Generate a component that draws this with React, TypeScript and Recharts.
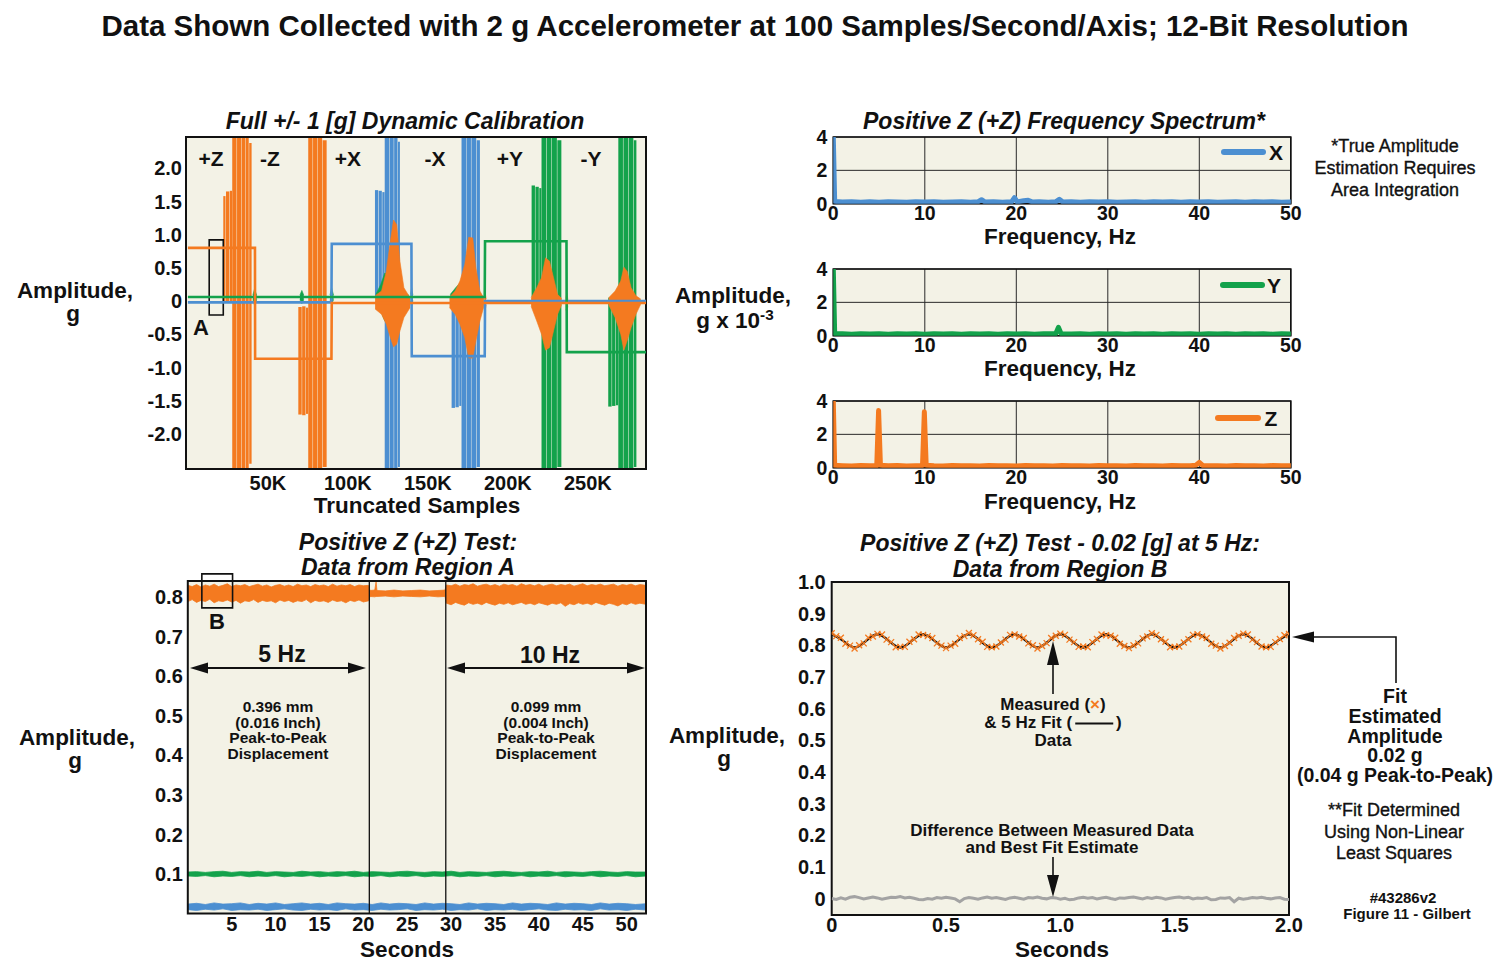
import React from 'react';
import {
  ComposedChart,
  Line,
  Area,
  Scatter,
  XAxis,
  YAxis,
  CartesianGrid,
  ReferenceArea,
  ReferenceLine,
} from 'recharts';

const FONT = '"Liberation Sans", Arial, Helvetica, sans-serif';
const INK = '#111111';
const ORANGE = '#F47A20';
const BLUE = '#4C8FD1';
const GREEN = '#13A24B';
const CREAM = '#F3F2E6';
const GRAY = '#A3A3A3';

// ---------------- Panel 1: dynamic calibration (samples, g) ----------------
const CAL_DOMAIN_X: [number, number] = [-1200, 286300];
const CAL_DOMAIN_Y: [number, number] = [-2.53, 2.47];
const calXTicks = [50000, 100000, 150000, 200000, 250000];
const calYTicks = [2, 1.5, 1, 0.5, 0, -0.5, -1, -1.5, -2];

const orangeLevel: [number, number][] = [
  [0, 0.8], [41900, 0.8], [42000, -0.87], [89700, -0.87], [89900, -0.03], [286300, -0.03],
];
const blueLevel: [number, number][] = [
  [0, -0.02], [89700, -0.02], [89900, 0.86], [139700, 0.86], [139900, -0.83],
  [185500, -0.83], [185700, 0.0], [286300, 0.0],
];
const greenLevel: [number, number][] = [
  [0, 0.06], [185500, 0.06], [185700, 0.9], [236600, 0.9], [236800, -0.77], [286300, -0.77],
];

// burst strips: [startSample, endSample, low g, high g]
const orangeStrips: [number, number, number, number][] = [
  [22100, 23500, 0.0, 1.58], [23800, 25900, 0.0, 1.65], [26200, 27600, 0.0, 1.66],
  [27700, 30400, -2.53, 2.47], [30700, 33200, -2.53, 2.47], [33500, 35700, -2.53, 2.47],
  [36000, 38000, -2.53, 2.47], [38300, 39800, -2.45, 2.38],
  [69000, 71100, -1.71, -0.09], [71400, 73500, -1.72, -0.08], [73800, 75100, -1.7, -0.1],
  [75200, 77900, -2.53, 2.47], [78200, 81000, -2.53, 2.47], [81300, 83900, -2.53, 2.47],
  [84200, 86700, -2.5, 2.42],
];
const blueStrips: [number, number, number, number][] = [
  [116900, 118900, 0.05, 1.67], [119200, 121200, 0.05, 1.66], [121500, 122900, 0.05, 1.64],
  [123000, 125700, -2.53, 2.47], [126000, 128600, -2.53, 2.47], [128900, 131000, -2.53, 2.47],
  [131300, 132500, -2.5, 2.4],
  [164800, 166900, -1.61, -0.05], [167200, 169300, -1.6, -0.06], [169600, 170900, -1.58, -0.06],
  [171000, 173800, -2.53, 2.47], [174100, 176900, -2.53, 2.47], [177200, 180200, -2.53, 2.47],
  [180500, 182500, -2.5, 2.42],
];
const greenStrips: [number, number, number, number][] = [
  [214800, 216900, 0.06, 1.74], [217200, 219300, 0.06, 1.72], [219600, 220900, 0.06, 1.7],
  [221000, 224000, -2.53, 2.47], [224300, 227200, -2.53, 2.47], [227500, 230600, -2.53, 2.47],
  [230900, 233400, -2.5, 2.42],
  [262700, 264800, -1.59, 0.05], [265100, 267200, -1.58, 0.04], [267500, 268900, -1.57, 0.05],
  [269000, 271900, -2.53, 2.47], [272200, 275200, -2.53, 2.47], [275500, 278400, -2.53, 2.47],
  [278700, 280300, -2.5, 2.42],
];

// cross-axis responses (envelopes): [sample, low g, high g]
const orangeSpindles: [number, number, number][][] = [
  [[117000, -0.12, 0.08], [121000, -0.2, 0.15], [124000, -0.35, 0.45], [126500, -0.55, 0.9],
   [128500, -0.69, 1.22], [130500, -0.65, 1.15], [132500, -0.45, 0.6], [135000, -0.25, 0.2], [138800, -0.1, 0.05]],
  [[163500, -0.1, 0.06], [167000, -0.2, 0.15], [170000, -0.35, 0.3], [173000, -0.55, 0.55],
   [175500, -0.86, 0.96], [178000, -0.86, 0.95], [180000, -0.6, 0.5], [182500, -0.3, 0.15], [185000, -0.08, 0.04]],
  [[214500, -0.08, 0.05], [218000, -0.3, 0.2], [221000, -0.5, 0.35], [223500, -0.74, 0.65],
   [226000, -0.7, 0.6], [228500, -0.45, 0.35], [231000, -0.2, 0.1], [233500, -0.06, 0.04]],
  [[263000, -0.06, 0.05], [267000, -0.25, 0.15], [270500, -0.5, 0.3], [272500, -0.74, 0.51],
   [274500, -0.6, 0.45], [277000, -0.4, 0.2], [280000, -0.2, 0.08], [283000, -0.05, 0.03]],
  [[185200, -0.1, 0.05], [185700, -0.15, 0.15], [186400, -0.06, 0.03]],
  [[236200, -0.12, 0.04], [236800, -0.18, 0.12], [237500, -0.07, 0.02]],
];
const greenSpindles: [number, number, number][][] = [
  [[117500, 0.0, 0.1], [120500, -0.15, 0.25], [123000, -0.3, 0.42], [126000, -0.28, 0.38],
   [129000, -0.15, 0.2], [133000, -0.05, 0.12], [138000, 0.02, 0.09]],
  [[164000, 0.0, 0.1], [168000, -0.1, 0.22], [171500, -0.2, 0.3], [175000, -0.15, 0.22],
   [179000, -0.05, 0.12], [184000, 0.02, 0.08]],
  [[40600, 0.02, 0.09], [41600, -0.06, 0.18], [43000, 0.02, 0.09]],
  [[70000, 0.02, 0.09], [71200, -0.04, 0.16], [72400, 0.02, 0.09]],
  [[88800, 0.02, 0.09], [89800, -0.05, 0.2], [91000, 0.02, 0.09]],
  [[139200, 0.0, 0.1], [139800, -0.1, 0.2], [140600, 0.01, 0.09]],
];

// ---------------- Panels 2-4: frequency spectra (Hz, g x 10^-3) ----------------
const specXTicks = [0, 10, 20, 30, 40, 50];
const specYTicks = [0, 2, 4];
const spectrumX: [number, number][] = [
  [0, 4], [0.15, 0.14], [1, 0.1], [2, 0.12], [3, 0.08], [4, 0.11], [5, 0.09], [6, 0.12], [7, 0.1],
  [8, 0.08], [9, 0.11], [10, 0.1], [11, 0.12], [12, 0.09], [13, 0.1], [14, 0.12], [15, 0.09],
  [15.8, 0.11], [16.2, 0.24], [16.6, 0.1], [17.5, 0.11], [18.5, 0.09], [19.5, 0.12], [19.8, 0.36],
  [20.1, 0.11], [20.8, 0.18], [21.3, 0.2], [21.8, 0.1], [22.5, 0.12], [23.5, 0.09], [24.3, 0.11],
  [24.7, 0.26], [25.1, 0.1], [26, 0.12], [27, 0.09], [28, 0.11], [29, 0.1], [30, 0.12], [31, 0.09],
  [32, 0.1], [33, 0.12], [34, 0.09], [35, 0.11], [36, 0.1], [37, 0.12], [38, 0.08], [39, 0.11],
  [40, 0.1], [41, 0.12], [42, 0.09], [43, 0.1], [44, 0.12], [45, 0.09], [46, 0.11], [47, 0.1],
  [48, 0.12], [49, 0.09], [50, 0.1],
];
const spectrumY: [number, number][] = [
  [0, 4], [0.15, 0.13], [1, 0.11], [2, 0.09], [3, 0.12], [4, 0.1], [5, 0.11], [6, 0.09], [7, 0.12],
  [8, 0.1], [9, 0.11], [10, 0.09], [11, 0.12], [12, 0.1], [13, 0.11], [14, 0.09], [15, 0.12],
  [16, 0.1], [17, 0.11], [18, 0.09], [19, 0.12], [20, 0.1], [21, 0.11], [22, 0.09], [23, 0.12],
  [24.3, 0.11], [24.6, 0.5], [24.9, 0.12], [26, 0.1], [27, 0.11], [28, 0.09], [29, 0.12], [30, 0.1],
  [31, 0.11], [32, 0.09], [33, 0.12], [34, 0.1], [35, 0.11], [36, 0.09], [37, 0.12], [38, 0.1],
  [39, 0.11], [40, 0.09], [41, 0.12], [42, 0.1], [43, 0.11], [44, 0.09], [45, 0.12], [46, 0.1],
  [47, 0.11], [48, 0.09], [49, 0.12], [50, 0.1],
];
const spectrumZ: [number, number][] = [
  [0, 4], [0.15, 0.14], [1, 0.12], [2, 0.1], [3, 0.13], [4, 0.11], [4.75, 0.12], [4.95, 3.43],
  [5.15, 0.14], [6, 0.11], [7, 0.13], [8, 0.1], [9, 0.12], [9.75, 0.13], [9.95, 3.35], [10.15, 0.15],
  [11, 0.12], [12, 0.1], [13, 0.13], [14, 0.11], [15, 0.12], [16, 0.1], [17, 0.13], [18, 0.11],
  [19, 0.12], [20, 0.1], [21, 0.13], [22, 0.11], [23, 0.12], [24, 0.1], [25, 0.13], [26, 0.11],
  [27, 0.12], [28, 0.1], [29, 0.13], [30, 0.11], [31, 0.12], [32, 0.1], [33, 0.13], [34, 0.11],
  [35, 0.12], [36, 0.1], [37, 0.13], [38, 0.11], [39, 0.12], [39.6, 0.14], [40, 0.32], [40.4, 0.13],
  [41, 0.11], [42, 0.12], [43, 0.1], [44, 0.13], [45, 0.11], [46, 0.12], [47, 0.1], [48, 0.13],
  [49, 0.11], [50, 0.12],
];

// ---------------- Panel 5: region A (seconds, g) ----------------
const regA_DOMAIN_X: [number, number] = [0, 52.2];
const regA_DOMAIN_Y: [number, number] = [0, 0.84];
const regAXTicks = [5, 10, 15, 20, 25, 30, 35, 40, 45, 50];
const regAYTicks = [0.1, 0.2, 0.3, 0.4, 0.5, 0.6, 0.7, 0.8];
const regA_segmentEnds = [20.68, 29.39];
const orangeBandA: [number, number, number][] = [
  [0, 0.788, 0.829], [0.5, 0.793, 0.826], [1, 0.786, 0.831], [1.5, 0.791, 0.825], [2, 0.788, 0.83],
  [2.5, 0.794, 0.827], [3, 0.785, 0.832], [3.5, 0.79, 0.826], [4, 0.788, 0.829], [4.5, 0.792, 0.833],
  [5, 0.787, 0.826], [5.5, 0.791, 0.83], [6, 0.784, 0.828], [6.5, 0.79, 0.831], [7, 0.788, 0.826],
  [7.5, 0.793, 0.829], [8, 0.786, 0.832], [8.5, 0.791, 0.827], [9, 0.788, 0.83], [9.5, 0.79, 0.825],
  [10, 0.785, 0.829], [10.5, 0.792, 0.831], [11, 0.788, 0.827], [11.5, 0.791, 0.83], [12, 0.786, 0.826],
  [12.5, 0.79, 0.832], [13, 0.788, 0.828], [13.5, 0.793, 0.83], [14, 0.785, 0.826], [14.5, 0.791, 0.831],
  [15, 0.788, 0.828], [15.5, 0.79, 0.83], [16, 0.786, 0.826], [16.5, 0.792, 0.832], [17, 0.788, 0.827],
  [17.5, 0.79, 0.83], [18, 0.785, 0.828], [18.5, 0.791, 0.831], [19, 0.788, 0.826], [19.5, 0.792, 0.83],
  [20, 0.787, 0.828], [20.6, 0.79, 0.829],
  [20.75, 0.801, 0.816], [21.3, 0.8, 0.817], [21.45, 0.801, 0.838], [21.55, 0.801, 0.816],
  [22.5, 0.802, 0.815], [23.5, 0.8, 0.817], [24.5, 0.802, 0.815], [25.5, 0.801, 0.816],
  [26.5, 0.8, 0.817], [27.5, 0.802, 0.815], [28.5, 0.8, 0.816], [29.3, 0.801, 0.817],
  [29.45, 0.784, 0.83], [30, 0.78, 0.828], [30.5, 0.786, 0.832], [31, 0.782, 0.827], [31.5, 0.779, 0.831],
  [32, 0.785, 0.829], [32.5, 0.781, 0.833], [33, 0.784, 0.827], [33.5, 0.78, 0.83], [34, 0.786, 0.832],
  [34.5, 0.782, 0.828], [35, 0.779, 0.831], [35.5, 0.784, 0.827], [36, 0.781, 0.832], [36.5, 0.785, 0.829],
  [37, 0.78, 0.831], [37.5, 0.783, 0.827], [38, 0.786, 0.833], [38.5, 0.781, 0.829], [39, 0.784, 0.831],
  [39.5, 0.78, 0.828], [40, 0.785, 0.832], [40.5, 0.782, 0.827], [41, 0.779, 0.83], [41.5, 0.784, 0.832],
  [42, 0.781, 0.828], [42.5, 0.785, 0.831], [43, 0.776, 0.829], [43.5, 0.783, 0.832], [44, 0.78, 0.827],
  [44.5, 0.785, 0.83], [45, 0.781, 0.833], [45.5, 0.784, 0.828], [46, 0.78, 0.831], [46.5, 0.786, 0.829],
  [47, 0.782, 0.832], [47.5, 0.779, 0.828], [48, 0.784, 0.83], [48.5, 0.781, 0.832], [49, 0.777, 0.827],
  [49.5, 0.783, 0.831], [50, 0.78, 0.829], [50.5, 0.785, 0.832], [51, 0.781, 0.828], [51.5, 0.784, 0.831],
  [52.2, 0.781, 0.829],
];
const greenBandA: [number, number, number][] = [
  [0, 0.095, 0.105], [1, 0.094, 0.106], [2, 0.096, 0.104], [3, 0.093, 0.106], [4, 0.095, 0.107],
  [5, 0.094, 0.104], [6, 0.096, 0.106], [7, 0.093, 0.105], [8, 0.095, 0.107], [9, 0.094, 0.104],
  [10, 0.096, 0.106], [11, 0.093, 0.105], [12, 0.095, 0.104], [13, 0.094, 0.107], [14, 0.096, 0.105],
  [15, 0.093, 0.106], [16, 0.095, 0.104], [17, 0.094, 0.106], [18, 0.096, 0.105], [19, 0.093, 0.107],
  [20, 0.095, 0.104], [21, 0.094, 0.106], [22, 0.096, 0.105], [23, 0.093, 0.104], [24, 0.095, 0.106],
  [25, 0.094, 0.107], [26, 0.096, 0.105], [27, 0.093, 0.104], [28, 0.095, 0.106], [29, 0.094, 0.105],
  [30, 0.096, 0.107], [31, 0.093, 0.104], [32, 0.095, 0.106], [33, 0.094, 0.105], [34, 0.096, 0.104],
  [35, 0.093, 0.106], [36, 0.095, 0.107], [37, 0.094, 0.105], [38, 0.096, 0.104], [39, 0.093, 0.106],
  [40, 0.095, 0.105], [41, 0.094, 0.107], [42, 0.096, 0.104], [43, 0.093, 0.106], [44, 0.095, 0.105],
  [45, 0.094, 0.104], [46, 0.096, 0.106], [47, 0.093, 0.107], [48, 0.095, 0.105], [49, 0.094, 0.104],
  [50, 0.096, 0.106], [51, 0.093, 0.105], [52.2, 0.095, 0.105],
];
const blueBandA: [number, number, number][] = [
  [0, 0.01, 0.024], [1, 0.008, 0.026], [2, 0.011, 0.023], [3, 0.009, 0.027], [4, 0.012, 0.024],
  [5, 0.008, 0.025], [6, 0.01, 0.027], [7, 0.009, 0.023], [8, 0.011, 0.026], [9, 0.008, 0.024],
  [10, 0.01, 0.027], [11, 0.012, 0.023], [12, 0.009, 0.025], [13, 0.008, 0.027], [14, 0.011, 0.024],
  [15, 0.009, 0.026], [16, 0.01, 0.023], [17, 0.008, 0.027], [18, 0.012, 0.025], [19, 0.009, 0.024],
  [20, 0.01, 0.026], [21, 0.008, 0.023], [22, 0.011, 0.027], [23, 0.009, 0.024], [24, 0.01, 0.026],
  [25, 0.012, 0.025], [26, 0.008, 0.023], [27, 0.01, 0.027], [28, 0.009, 0.024], [29, 0.011, 0.026],
  [30, 0.008, 0.025], [31, 0.01, 0.023], [32, 0.009, 0.027], [33, 0.012, 0.024], [34, 0.008, 0.026],
  [35, 0.01, 0.025], [36, 0.009, 0.023], [37, 0.011, 0.027], [38, 0.008, 0.024], [39, 0.01, 0.026],
  [40, 0.012, 0.025], [41, 0.009, 0.023], [42, 0.008, 0.027], [43, 0.011, 0.024], [44, 0.009, 0.026],
  [45, 0.01, 0.025], [46, 0.008, 0.023], [47, 0.012, 0.027], [48, 0.009, 0.024], [49, 0.01, 0.026],
  [50, 0.008, 0.025], [51, 0.011, 0.023], [52.2, 0.009, 0.025],
];

// ---------------- Panel 6: region B (seconds, g) ----------------
const regB_DOMAIN_X: [number, number] = [0, 2];
const regB_DOMAIN_Y: [number, number] = [-0.052, 1.0];
const regBXTicks = [0, 0.5, 1, 1.5, 2];
const regBYTicks = [0, 0.1, 0.2, 0.3, 0.4, 0.5, 0.6, 0.7, 0.8, 0.9, 1.0];
const FIT_DT = 0.05;
const fitValues = [
  0.835, 0.814, 0.793, 0.814, 0.835, 0.814, 0.793, 0.814, 0.835, 0.814,
  0.793, 0.814, 0.835, 0.814, 0.793, 0.814, 0.835, 0.814, 0.793, 0.814,
  0.835, 0.814, 0.793, 0.814, 0.835, 0.814, 0.793, 0.814, 0.835, 0.814,
  0.793, 0.814, 0.835, 0.814, 0.793, 0.814, 0.835, 0.814, 0.793, 0.814,
  0.835,
];
const MEAS_DT = 0.02;
const measuredValues = [
  0.838, 0.829, 0.824, 0.805, 0.799, 0.79, 0.8, 0.806, 0.824, 0.828,
  0.836, 0.834, 0.818, 0.81, 0.794, 0.795, 0.795, 0.811, 0.819, 0.834,
  0.833, 0.829, 0.823, 0.806, 0.799, 0.791, 0.799, 0.805, 0.823, 0.829,
  0.839, 0.832, 0.819, 0.811, 0.795, 0.794, 0.796, 0.809, 0.818, 0.833,
  0.834, 0.828, 0.823, 0.806, 0.8, 0.79, 0.798, 0.807, 0.823, 0.83,
  0.837, 0.833, 0.818, 0.81, 0.795, 0.796, 0.794, 0.81, 0.82, 0.834,
  0.832, 0.83, 0.824, 0.805, 0.798, 0.791, 0.8, 0.806, 0.822, 0.828,
  0.838, 0.833, 0.819, 0.811, 0.794, 0.795, 0.796, 0.809, 0.819, 0.833,
  0.835, 0.828, 0.823, 0.805, 0.799, 0.79, 0.798, 0.808, 0.823, 0.83,
  0.837, 0.834, 0.818, 0.81, 0.796, 0.794, 0.795, 0.81, 0.82, 0.832,
  0.836,
];
const residualValues = [
  0.0, -0.003, 0.002, -0.002, 0.004, 0.006, 0.003, -0.001, 0.002, 0.005,
  0.002, -0.002, 0.001, 0.004, 0.003, 0.006, 0.002, 0.004, 0.001, -0.003,
  -0.004, 0.0, -0.002, 0.003, 0.001, 0.004, 0.002, -0.001, -0.01, 0.0,
  0.003, 0.001, -0.002, 0.002, 0.005, 0.001, 0.003, 0.0, -0.003, 0.002,
  0.004, 0.001, -0.002, 0.003, 0.002, 0.005, 0.001, -0.001, 0.003, 0.002,
  -0.002, 0.001, -0.004, -0.002, 0.002, 0.004, 0.001, 0.003, -0.001, 0.002,
  0.004, 0.0, -0.003, 0.002, 0.001, 0.003, 0.005, 0.002, -0.001, 0.003,
  0.0, 0.004, 0.002, -0.002, 0.001, 0.003, 0.005, 0.002, 0.004, -0.001,
  0.002, 0.0, 0.003, -0.004, -0.003, 0.002, 0.001, 0.003, -0.01, 0.001,
  -0.002, 0.0, 0.003, 0.002, 0.004, 0.001, -0.001, 0.002, 0.003, -0.002,
  -0.003,
];

// ---------------- helpers ----------------
const pts = (a: [number, number][]) => a.map(([x, y]) => ({ x, y }));
const rng = (a: [number, number, number][]) => a.map(([x, lo, hi]) => ({ x, r: [lo, hi] }));
const strip = ([x0, x1, lo, hi]: [number, number, number, number]) => [
  { x: x0, r: [lo, hi] },
  { x: x1, r: [lo, hi] },
];
const sampled = (vals: number[], dt: number) => vals.map((y, i) => ({ x: +(i * dt).toFixed(4), y }));

const tickFont = (size: number) => ({ fontSize: size, fontWeight: 700, fill: INK, fontFamily: FONT });
const TL = { stroke: INK, strokeWidth: 1.5 };

type TxtProps = {
  x: number; y: number; size?: number; bold?: boolean; italic?: boolean;
  children: React.ReactNode; color?: string; stroke?: boolean;
};
const Txt = ({ x, y, size = 20, bold = true, italic = false, children, color = INK, stroke = false }: TxtProps) => (
  <div
    style={{
      position: 'absolute', left: x, top: y, transform: 'translate(-50%, -50%)',
      fontFamily: FONT, fontSize: size, fontWeight: bold ? 700 : 400,
      fontStyle: italic ? 'italic' : 'normal', lineHeight: 1, whiteSpace: 'nowrap', color,
      WebkitTextStroke: stroke ? `0.35px ${color}` : undefined,
    }}
  >
    {children}
  </div>
);

const CrossShape = (props: any) => {
  const { cx, cy } = props;
  if (cx == null || cy == null) return null;
  const s = 3;
  return (
    <path
      d={`M${cx - s},${cy - s}L${cx + s},${cy + s}M${cx - s},${cy + s}L${cx + s},${cy - s}`}
      stroke={ORANGE} strokeWidth={1.3} fill="none"
    />
  );
};

// ---------------- panels ----------------
function CalibrationPanel() {
  const fmtY = (v: number) => (v === 0 ? '0' : v.toFixed(1));
  const strips = (list: [number, number, number, number][], color: string, key: string) =>
    list.map((s, i) => (
      <Area key={`${key}${i}`} data={strip(s)} dataKey="r" type="linear" stroke="none"
        fill={color} fillOpacity={1} isAnimationActive={false} dot={false} activeDot={false} />
    ));
  const spindles = (list: [number, number, number][][], color: string, key: string) =>
    list.map((s, i) => (
      <Area key={`${key}${i}`} data={rng(s)} dataKey="r" type="linear" stroke={color} strokeWidth={0.6}
        fill={color} fillOpacity={1} isAnimationActive={false} dot={false} activeDot={false} />
    ));
  return (
    <div style={{ position: 'absolute', left: 0, top: 100 }}>
      <ComposedChart width={660} height={420} margin={{ left: 126, top: 37, right: 14, bottom: 21 }}>
        <CartesianGrid fill={CREAM} horizontal={false} vertical={false} />
        <XAxis type="number" dataKey="x" domain={CAL_DOMAIN_X} allowDataOverflow ticks={calXTicks}
          tickFormatter={(v: number) => `${v / 1000}K`} tick={tickFont(20)} tickLine={false}
          axisLine={false} tickSize={0} tickMargin={7} height={30} interval={0} />
        <XAxis xAxisId="tk" type="number" dataKey="x" domain={CAL_DOMAIN_X} allowDataOverflow ticks={calXTicks}
          mirror tick={false} tickLine={TL} axisLine={false} tickSize={6} interval={0} />
        <YAxis type="number" domain={CAL_DOMAIN_Y} allowDataOverflow ticks={calYTicks} tickFormatter={fmtY}
          tick={tickFont(20)} tickLine={false} axisLine={false} tickSize={0} tickMargin={4} width={60} interval={0} />
        <YAxis yAxisId="tl" type="number" domain={CAL_DOMAIN_Y} allowDataOverflow ticks={calYTicks}
          mirror tick={false} tickLine={TL} axisLine={false} tickSize={6} interval={0} />
        <YAxis yAxisId="tr" orientation="right" type="number" domain={CAL_DOMAIN_Y} allowDataOverflow
          ticks={calYTicks} mirror tick={false} tickLine={TL} axisLine={false} tickSize={6} interval={0} />

        <Line data={pts(blueLevel)} dataKey="y" type="linear" stroke={BLUE} strokeWidth={2.6} dot={false} isAnimationActive={false} />
        {strips(blueStrips, BLUE, 'bs')}
        <Line data={pts(greenLevel)} dataKey="y" type="linear" stroke={GREEN} strokeWidth={2.6} dot={false} isAnimationActive={false} />
        {strips(greenStrips, GREEN, 'gs')}
        {spindles(greenSpindles, GREEN, 'gp')}
        <Line data={pts(orangeLevel)} dataKey="y" type="linear" stroke={ORANGE} strokeWidth={2.6} dot={false} isAnimationActive={false} />
        {strips(orangeStrips, ORANGE, 'os')}
        {spindles(orangeSpindles, ORANGE, 'op')}

        <ReferenceArea x1={13300} x2={22100} y1={-0.21} y2={0.92} fill="none" stroke={INK} strokeWidth={1.6} ifOverflow="visible" />
        <ReferenceArea x1={CAL_DOMAIN_X[0]} x2={CAL_DOMAIN_X[1]} y1={CAL_DOMAIN_Y[0]} y2={CAL_DOMAIN_Y[1]}
          fill="none" stroke={INK} strokeWidth={2} ifOverflow="visible" />
      </ComposedChart>
    </div>
  );
}

function SpectrumPanel({ top, data, color }: { top: number; data: [number, number][]; color: string }) {
  return (
    <div style={{ position: 'absolute', left: 790, top: top - 12 }}>
      <ComposedChart width={520} height={110} margin={{ left: 13.3, top: 12, right: 19.2, bottom: 6.3 }}>
        <CartesianGrid fill={CREAM} stroke="#2a2a2a" strokeWidth={1} />
        <XAxis type="number" dataKey="x" domain={[0, 50]} allowDataOverflow ticks={specXTicks} tick={tickFont(19.5)}
          tickLine={false} axisLine={false} tickSize={0} tickMargin={2} height={25} interval={0} />
        <YAxis type="number" domain={[0, 4]} allowDataOverflow ticks={specYTicks} tick={tickFont(19.5)}
          tickLine={false} axisLine={false} tickSize={0} tickMargin={6} width={30} interval={0} />
        <ReferenceArea x1={0} x2={50} y1={0} y2={4} fill="none" stroke={INK} strokeWidth={1.6} ifOverflow="visible" />
        <Line data={pts(data)} dataKey="y" type="linear" stroke={color} strokeWidth={5} strokeLinejoin="round"
          strokeLinecap="round" dot={false} isAnimationActive={false} />
      </ComposedChart>
    </div>
  );
}

function RegionAPanel() {
  return (
    <div style={{ position: 'absolute', left: 0, top: 560 }}>
      <ComposedChart width={660} height={400} margin={{ left: 127.8, top: 21, right: 14, bottom: 16.4 }}>
        <CartesianGrid fill={CREAM} horizontal={false} vertical={false} />
        <XAxis type="number" dataKey="x" domain={regA_DOMAIN_X} allowDataOverflow ticks={regAXTicks} tick={tickFont(20)}
          tickLine={false} axisLine={false} tickSize={0} tickMargin={3} height={30} interval={0} />
        <XAxis xAxisId="tt" orientation="top" type="number" dataKey="x" domain={regA_DOMAIN_X} allowDataOverflow
          ticks={regAXTicks} mirror tick={false} tickLine={TL} axisLine={false} tickSize={6} interval={0} />
        <YAxis type="number" domain={regA_DOMAIN_Y} allowDataOverflow ticks={regAYTicks} tickFormatter={(v: number) => v.toFixed(1)}
          tick={tickFont(20)} tickLine={false} axisLine={false} tickSize={0} tickMargin={5} width={60} interval={0} />
        <YAxis yAxisId="tl" type="number" domain={regA_DOMAIN_Y} allowDataOverflow ticks={regAYTicks}
          mirror tick={false} tickLine={TL} axisLine={false} tickSize={6} interval={0} />
        <YAxis yAxisId="tr" orientation="right" type="number" domain={regA_DOMAIN_Y} allowDataOverflow ticks={regAYTicks}
          mirror tick={false} tickLine={TL} axisLine={false} tickSize={6} interval={0} />

        <Area data={rng(blueBandA)} dataKey="r" type="linear" stroke={BLUE} strokeWidth={0.8} fill={BLUE} fillOpacity={1}
          isAnimationActive={false} dot={false} activeDot={false} />
        <Area data={rng(greenBandA)} dataKey="r" type="linear" stroke={GREEN} strokeWidth={0.8} fill={GREEN} fillOpacity={1}
          isAnimationActive={false} dot={false} activeDot={false} />
        <Area data={rng(orangeBandA)} dataKey="r" type="linear" stroke={ORANGE} strokeWidth={0.8} fill={ORANGE} fillOpacity={1}
          isAnimationActive={false} dot={false} activeDot={false} />

        {regA_segmentEnds.map((t) => (
          <ReferenceLine key={t} x={t} stroke={INK} strokeWidth={1.3} />
        ))}
        <ReferenceArea x1={1.6} x2={5.1} y1={0.772} y2={0.858} fill="none" stroke={INK} strokeWidth={1.6} ifOverflow="visible" />
        <ReferenceArea x1={regA_DOMAIN_X[0]} x2={regA_DOMAIN_X[1]} y1={regA_DOMAIN_Y[0]} y2={regA_DOMAIN_Y[1]}
          fill="none" stroke={INK} strokeWidth={2} ifOverflow="visible" />
      </ComposedChart>
    </div>
  );
}

function RegionBPanel() {
  const fmtY = (v: number) => (v === 0 ? '0' : v.toFixed(1));
  const fmtX = (v: number) => (v === 0 ? '0' : v.toFixed(1));
  return (
    <div style={{ position: 'absolute', left: 700, top: 560 }}>
      <ComposedChart width={620} height={400} margin={{ left: 71.7, top: 22, right: 31, bottom: 15 }}>
        <CartesianGrid fill={CREAM} horizontal={false} vertical={false} />
        <XAxis type="number" dataKey="x" domain={regB_DOMAIN_X} allowDataOverflow ticks={regBXTicks} tickFormatter={fmtX}
          tick={tickFont(20)} tickLine={false} axisLine={false} tickSize={0} tickMargin={3} height={30} interval={0} />
        <XAxis xAxisId="tt" orientation="top" type="number" dataKey="x" domain={regB_DOMAIN_X} allowDataOverflow
          ticks={regBXTicks} mirror tick={false} tickLine={TL} axisLine={false} tickSize={6} interval={0} />
        <YAxis type="number" dataKey="y" domain={regB_DOMAIN_Y} allowDataOverflow ticks={regBYTicks} tickFormatter={fmtY}
          tick={tickFont(20)} tickLine={false} axisLine={false} tickSize={0} tickMargin={6} width={60} interval={0} />
        <YAxis yAxisId="tr" orientation="right" type="number" domain={regB_DOMAIN_Y} allowDataOverflow ticks={regBYTicks}
          mirror tick={false} tickLine={TL} axisLine={false} tickSize={6} interval={0} />

        <Line data={sampled(residualValues, MEAS_DT)} dataKey="y" type="linear" stroke={GRAY} strokeWidth={3}
          dot={false} isAnimationActive={false} />
        <Scatter data={sampled(measuredValues, MEAS_DT)} dataKey="y" shape={CrossShape} isAnimationActive={false} />
        <Line data={sampled(fitValues, FIT_DT)} dataKey="y" type="natural" stroke={INK} strokeWidth={2.4}
          dot={false} isAnimationActive={false} />

        <ReferenceArea x1={regB_DOMAIN_X[0]} x2={regB_DOMAIN_X[1]} y1={regB_DOMAIN_Y[0]} y2={regB_DOMAIN_Y[1]}
          fill="none" stroke={INK} strokeWidth={2} ifOverflow="visible" />
      </ComposedChart>
    </div>
  );
}

function Arrows() {
  const head = (tx: number, ty: number, dir: 'l' | 'r' | 'u' | 'd', len = 18, hw = 5.5) => {
    let p = '';
    if (dir === 'l') p = `${tx},${ty} ${tx + len},${ty - hw} ${tx + len},${ty + hw}`;
    if (dir === 'r') p = `${tx},${ty} ${tx - len},${ty - hw} ${tx - len},${ty + hw}`;
    if (dir === 'u') p = `${tx},${ty} ${tx - hw},${ty + len} ${tx + hw},${ty + len}`;
    if (dir === 'd') p = `${tx},${ty} ${tx - hw},${ty - len} ${tx + hw},${ty - len}`;
    return <polygon points={p} fill={INK} />;
  };
  return (
    <svg width={1503} height={967} style={{ position: 'absolute', left: 0, top: 0, pointerEvents: 'none' }}>
      <line x1={200} y1={668} x2={356} y2={668} stroke={INK} strokeWidth={2} />
      {head(190, 668, 'l')}
      {head(366, 668, 'r')}
      <line x1={457} y1={668} x2={635} y2={668} stroke={INK} strokeWidth={2} />
      {head(447, 668, 'l')}
      {head(645, 668, 'r')}
      <line x1={1053} y1={694} x2={1053} y2={655} stroke={INK} strokeWidth={1.6} />
      {head(1053, 641, 'u', 24, 6)}
      <line x1={1053} y1={857} x2={1053} y2={885} stroke={INK} strokeWidth={1.6} />
      {head(1053, 897, 'd', 22, 6)}
      <polyline points="1396,683 1396,637 1305,637" fill="none" stroke={INK} strokeWidth={1.6} />
      {head(1292, 637, 'l', 22, 5.5)}
    </svg>
  );
}

export default function App() {
  const lab = 22.5;
  return (
    <div style={{ position: 'absolute', left: 0, top: 0, width: 1503, height: 967, background: '#fff', overflow: 'hidden' }}>
      <Txt x={755} y={26} size={29.5}>
        Data Shown Collected with 2 g Accelerometer at 100 Samples/Second/Axis; 12-Bit Resolution
      </Txt>

      <CalibrationPanel />
      <SpectrumPanel top={137.3} data={spectrumX} color={BLUE} />
      <SpectrumPanel top={269} data={spectrumY} color={GREEN} />
      <SpectrumPanel top={400.7} data={spectrumZ} color={ORANGE} />
      <RegionAPanel />
      <RegionBPanel />
      <Arrows />

      {/* panel titles */}
      <Txt x={405} y={121} size={23} italic>Full +/- 1 [g] Dynamic Calibration</Txt>
      <Txt x={1064} y={121} size={23} italic>Positive Z (+Z) Frequency Spectrum*</Txt>
      <Txt x={408} y={542} size={23} italic>Positive Z (+Z) Test:</Txt>
      <Txt x={408} y={567} size={23} italic>Data from Region A</Txt>
      <Txt x={1060} y={543} size={23} italic>Positive Z (+Z) Test - 0.02 [g] at 5 Hz:</Txt>
      <Txt x={1060} y={569} size={23} italic>Data from Region B</Txt>

      {/* axis titles */}
      <Txt x={75} y={291} size={lab}>Amplitude,</Txt>
      <Txt x={73} y={314} size={lab}>g</Txt>
      <Txt x={417} y={506} size={lab}>Truncated Samples</Txt>
      <Txt x={733} y={296} size={lab}>Amplitude,</Txt>
      <Txt x={735} y={321} size={lab}>
        g x 10<sup style={{ fontSize: '0.68em', verticalAlign: '0.5em', lineHeight: 0 }}>-3</sup>
      </Txt>
      <Txt x={1060} y={237} size={lab}>Frequency, Hz</Txt>
      <Txt x={1060} y={369} size={lab}>Frequency, Hz</Txt>
      <Txt x={1060} y={502} size={lab}>Frequency, Hz</Txt>
      <Txt x={77} y={738} size={lab}>Amplitude,</Txt>
      <Txt x={75} y={761} size={lab}>g</Txt>
      <Txt x={407} y={950} size={lab}>Seconds</Txt>
      <Txt x={727} y={736} size={lab}>Amplitude,</Txt>
      <Txt x={724} y={759} size={lab}>g</Txt>
      <Txt x={1062} y={950} size={lab}>Seconds</Txt>

      {/* calibration section labels */}
      <Txt x={211} y={158} size={21}>+Z</Txt>
      <Txt x={270} y={158} size={21}>-Z</Txt>
      <Txt x={348} y={158} size={21}>+X</Txt>
      <Txt x={435} y={158} size={21}>-X</Txt>
      <Txt x={510} y={158} size={21}>+Y</Txt>
      <Txt x={591} y={158} size={21}>-Y</Txt>
      <Txt x={201} y={328} size={22}>A</Txt>

      {/* spectrum legends */}
      {[
        { y: 152.3, x0: 1221, x1: 1266, lx: 1276, t: 'X', c: BLUE },
        { y: 285, x0: 1220, x1: 1265, lx: 1274, t: 'Y', c: GREEN },
        { y: 418.3, x0: 1215, x1: 1261, lx: 1271, t: 'Z', c: ORANGE },
      ].map((l) => (
        <React.Fragment key={l.t}>
          <div style={{ position: 'absolute', left: l.x0, top: l.y - 3, width: l.x1 - l.x0, height: 6, background: l.c, borderRadius: 3 }} />
          <Txt x={l.lx} y={l.y} size={21}>{l.t}</Txt>
        </React.Fragment>
      ))}
      <Txt x={1395} y={146} size={18} bold={false} stroke>*True Amplitude</Txt>
      <Txt x={1395} y={168} size={18} bold={false} stroke>Estimation Requires</Txt>
      <Txt x={1395} y={190} size={18} bold={false} stroke>Area Integration</Txt>

      {/* region A annotations */}
      <Txt x={217} y={622} size={22}>B</Txt>
      <Txt x={282} y={654} size={23}>5 Hz</Txt>
      <Txt x={550} y={655} size={23}>10 Hz</Txt>
      {['0.396 mm', '(0.016 Inch)', 'Peak-to-Peak', 'Displacement'].map((s, i) => (
        <Txt key={s} x={278} y={707 + i * 15.5} size={15.5}>{s}</Txt>
      ))}
      {['0.099 mm', '(0.004 Inch)', 'Peak-to-Peak', 'Displacement'].map((s, i) => (
        <Txt key={s + 'b'} x={546} y={707 + i * 15.5} size={15.5}>{s}</Txt>
      ))}

      {/* region B annotations */}
      <Txt x={1053} y={704} size={17}>
        Measured (<span style={{ color: ORANGE }}>×</span>)
      </Txt>
      <Txt x={1053} y={722} size={17}>
        &amp; 5 Hz Fit (
        <span style={{ display: 'inline-block', width: 38, height: 2, background: INK, verticalAlign: 'middle', margin: '0 3px' }} />)
      </Txt>
      <Txt x={1053} y={740} size={17}>Data</Txt>
      <Txt x={1052} y={830} size={17}>Difference Between Measured Data</Txt>
      <Txt x={1052} y={847} size={17}>and Best Fit Estimate</Txt>

      {/* right side notes */}
      {['Fit', 'Estimated', 'Amplitude', '0.02 g', '(0.04 g Peak-to-Peak)'].map((s, i) => (
        <Txt key={s} x={1395} y={697 + i * 19.8} size={19.5}>{s}</Txt>
      ))}
      {['**Fit Determined', 'Using Non-Linear', 'Least Squares'].map((s, i) => (
        <Txt key={s} x={1394} y={810 + i * 21.5} size={18} bold={false} stroke>{s}</Txt>
      ))}
      <Txt x={1403} y={897} size={15}>#43286v2</Txt>
      <Txt x={1407} y={913} size={15}>Figure 11 - Gilbert</Txt>
    </div>
  );
}
